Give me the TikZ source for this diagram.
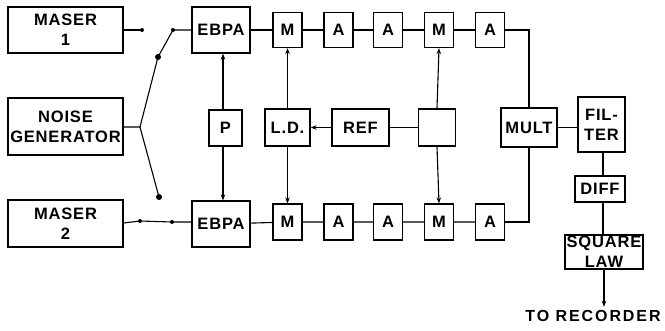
\documentclass[tikz,border=0pt]{standalone}
\usepackage{fontspec}
\setmainfont{Liberation Sans}[LetterSpace=5]
\usetikzlibrary{arrows.meta}
\tikzset{
  blk/.style={draw, line width=1.2pt, inner sep=0pt, align=center,
    font=\bfseries\fontsize{16.5}{20}\selectfont},
  wire/.style={line width=1.1pt},
  sig/.style={wire, -{Stealth[length=6pt,width=4.5pt]}},
  pin/.style={fill, circle, inner sep=0pt, minimum size=4pt},
  bigpin/.style={fill, circle, inner sep=0pt, minimum size=6pt}
}

\begin{document}
\begin{tikzpicture}[x=1pt, y=-1pt]
\useasboundingbox (0,0) rectangle (665,330);
\node[blk, minimum width=115pt, minimum height=46pt] (maser1) at (65.5,30) {MASER\\1};
\node[blk, minimum width=115pt, minimum height=57pt] (noise) at (65.5,126.5) {NOISE\\GENERATOR};
\node[blk, minimum width=115pt, minimum height=47pt] (maser2) at (65.5,223.5) {MASER\\2};
\node[blk, minimum width=58pt, minimum height=46pt] (ebpa1) at (221,30) {EBPA};
\node[blk, minimum width=58pt, minimum height=46pt] (ebpa2) at (221,224) {EBPA};
\node[blk, minimum width=33pt, minimum height=36pt] (p) at (225.5,128) {P};
\foreach\n/\t/\x in{m1/M/287.5, a1/A/338.5, a2/A/388, m2/M/439, a3/A/490}{
\node[blk, minimum width=29pt, minimum height=35pt] (\n) at (\x,30) {\t};
\node[blk, minimum width=29pt, minimum height=36pt] (\n b) at (\x,222) {\t};
}
\node[blk, minimum width=45pt, minimum height=37pt] (ld) at (287.5,127.5) {L.D.};
\node[blk, minimum width=57pt, minimum height=37pt] (ref) at (360.5,127.5) {REF};
\node[blk, minimum width=37pt, minimum height=37pt] (blank) at (437,127.5) {};
\node[blk, minimum width=56pt, minimum height=39pt] (mult) at (529,127.5) {MULT};
\node[blk, minimum width=47pt, minimum height=55pt] (filter) at (601.5,124.5) {FIL-\\TER};
\node[blk, minimum width=50pt, minimum height=26pt] (diff) at (600,189) {DIFF};
\node[blk, minimum width=78pt, minimum height=34pt] (sq) at (604,252) {SQUARE\\LAW};
\node[font=\bfseries\fontsize{16}{20}\selectfont\addfontfeature{LetterSpace=12}] (rec) at (593,316) {TO RECORDER};
% input switches
\node[pin] (s1a) at (142,30) {};
\node[pin] (s1b) at (173,30) {};
\node[bigpin] (s1c) at (158,57) {};
\node[bigpin] (s2c) at (159,197) {};
\node[pin] (s2a) at (140,221) {};
\node[pin] (s2b) at (172,222) {};
\coordinate (j) at (140,127);
\draw[wire] (maser1.east |- s1a) -- (s1a.center);
\draw[wire] (s1c.center) -- (s1b.center) -- (ebpa1.west |- s1b);
\draw[wire] (noise.east |- j) -- (j) -- (s1c.center);
\draw[wire] (j) -- (s2c.center);
\draw[wire] (maser2.east |- 0,223) -- (s2a.center) -- (s2b.center) -- (ebpa2.west |- s2b);
% chains
\draw[wire] (ebpa1) -- (m1) -- (a1) -- (a2) -- (m2) -- (a3);
\draw[wire] (ebpa2) -- (m1b) -- (a1b) -- (a2b) -- (m2b) -- (a3b);
\draw[wire] (a3.east) -| (mult.north);
\draw[wire] (a3b.east) -| (mult.south);
\draw[wire] (mult) -- (mult -| filter.west);
\draw[wire] (filter.south -| 603,0) -- (diff.north -| 603,0);
\draw[wire] (diff.south -| 603,0) -- (sq.north -| 603,0);
\draw[sig] (sq.south) -- (sq.south |- rec.north);
% reference and phase
\draw[sig] (p.north -| 223,0) -- (ebpa1.south -| 223,0);
\draw[sig] (p.south -| 223,0) -- (ebpa2.north -| 223,0);
\draw[sig] (ref) -- (ld);
\draw[wire] (ref) -- (blank);
\draw[sig] (ld.north) -- (m1.south);
\draw[sig] (ld.south) -- (m1b.north);
\draw[sig] (blank.north) -- (m2.south);
\draw[sig] (blank.south) -- (m2b.north);
\end{tikzpicture}
\end{document}
